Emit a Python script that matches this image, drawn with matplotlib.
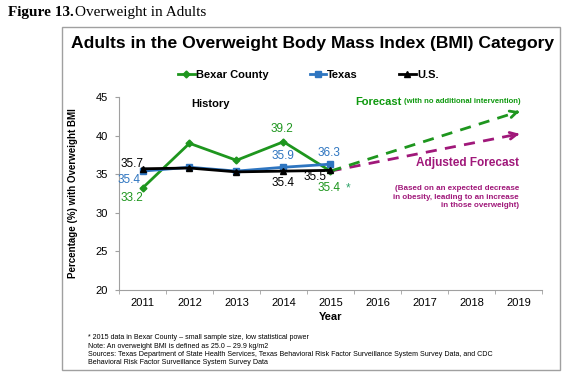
import matplotlib.pyplot as plt
from matplotlib.lines import Line2D
from matplotlib.patches import Rectangle

plt.rcParams['font.family'] = ['Liberation Sans', 'DejaVu Sans']

# data
years = ['2011', '2012', '2013', '2014', '2015', '2016', '2017', '2018', '2019']
hist_years = [0, 1, 2, 3, 4]
bexar = [33.2, 39.0, 36.8, 39.2, 35.4]
texas = [35.4, 35.9, 35.4, 35.9, 36.3]
us = [35.7, 35.8, 35.3, 35.4, 35.5]

forecast_x = [4, 8]
forecast = [35.4, 43.1]
adjusted = [35.4, 40.2]

green = '#1E961E'
green_txt = '#0F990F'
blue = '#2E75C0'
purple = '#A0187A'

fig = plt.figure(figsize=(5.73, 3.84), dpi=100)

# outer frame
fig.patches.append(Rectangle((0.108, 0.036), 0.869, 0.894, transform=fig.transFigure,
                             fill=False, edgecolor='#A0A0A0', linewidth=1.0))

fig.text(0.014, 0.968, 'Figure 13.', family='Liberation Serif', fontweight='bold',
         fontsize=11, va='center')
fig.text(0.131, 0.968, 'Overweight in Adults', family='Liberation Serif',
         fontsize=11, va='center')
fig.text(0.545, 0.888, 'Adults in the Overweight Body Mass Index (BMI) Category',
         fontsize=12.6, fontweight='bold', ha='center', va='center')

ax = fig.add_axes([0.2077, 0.2448, 0.738, 0.5026])

ax.plot(hist_years, texas, color=blue, lw=2, marker='s', ms=4, zorder=3)
ax.plot(hist_years, us, color='black', lw=2, marker='^', ms=4, zorder=4)
ax.plot(hist_years, bexar, color=green, lw=2, marker='D', ms=3.5, zorder=2)

# forecast lines with open arrowheads
for vals, c in [(adjusted, purple), (forecast, green)]:
    ax.plot(forecast_x, vals, color=c, lw=2, ls=(0, (4, 3)), zorder=2)
    dx = forecast_x[1] - forecast_x[0]
    dy = vals[1] - vals[0]
    ax.annotate('', xy=(forecast_x[1] + 0.08, vals[1] + 0.08 * dy / dx),
                xytext=(forecast_x[1] - 0.1, vals[1] - 0.1 * dy / dx),
                arrowprops=dict(arrowstyle='->', color=c, lw=2, mutation_scale=12))

# data labels
lab = dict(fontsize=8.5, ha='center', va='center')
ax.text(-0.22, 36.3, '35.7', color='black', **lab)
ax.text(-0.29, 34.3, '35.4', color=blue, **lab)
ax.text(-0.22, 31.9, '33.2', color=green, **lab)
ax.text(2.97, 40.8, '39.2', color=green, **lab)
ax.text(2.99, 37.3, '35.9', color=blue, **lab)
ax.text(2.99, 33.8, '35.4', color='black', **lab)
ax.text(3.97, 37.8, '36.3', color=blue, **lab)
ax.text(3.67, 34.6, '35.5', color='black', **lab)
ax.text(3.97, 33.2, '35.4', color=green, **lab)
ax.text(4.38, 33.2, '*', color='#2FA36A', fontsize=8.5, ha='center', va='center')

ax.text(1.44, 44.05, 'History', fontsize=8, fontweight='bold', ha='center', va='center')
ax.text(4.52, 44.4, 'Forecast', fontsize=8, fontweight='bold', color=green_txt, va='center')
ax.text(5.56, 44.4, '(with no additional intervention)', fontsize=5.5, fontweight='bold',
        color=green_txt, va='center')
ax.text(8.01, 36.4, 'Adjusted Forecast', fontsize=8.5, fontweight='bold', color=purple,
        ha='right', va='center')
ax.text(8.01, 32.0, '(Based on an expected decrease\nin obesity, leading to an increase\nin those overweight)',
        fontsize=5.8, fontweight='bold', color=purple, ha='right', va='center',
        multialignment='right', linespacing=1.3)

ax.set_xlim(-0.5, 8.5)
ax.set_ylim(20, 45)
ax.set_yticks([20, 25, 30, 35, 40, 45])
ax.set_xticks(range(len(years)))
ax.set_xticklabels(years)
ax.set_xticks([i - 0.5 for i in range(len(years) + 1)], minor=True)
ax.tick_params(axis='x', which='major', length=0, labelsize=8, pad=6)
ax.tick_params(axis='x', which='minor', length=3, color='#A0A0A0')
ax.tick_params(axis='y', length=3, color='#A0A0A0', labelsize=8, pad=5)
for s in ['top', 'right']:
    ax.spines[s].set_visible(False)
for s in ['left', 'bottom']:
    ax.spines[s].set_color('#A0A0A0')
ax.set_xlabel('Year', fontsize=8, fontweight='bold', labelpad=3)
fig.text(0.127, 0.497, 'Percentage (%) with Overweight BMI', rotation=90, fontsize=7,
         fontweight='bold', ha='center', va='center')

handles = [Line2D([], [], color=green, lw=2, marker='D', ms=3.5),
           Line2D([], [], color=blue, lw=2, marker='s', ms=4),
           Line2D([], [], color='black', lw=2, marker='^', ms=4)]
fig.legend(handles, ['Bexar County', 'Texas', 'U.S.'], loc='center', ncol=3,
           bbox_to_anchor=(0.538, 0.805), frameon=False, handlelength=1.5,
           handletextpad=0.1, columnspacing=3.7, prop={'weight': 'bold', 'size': 8})

notes = ('* 2015 data in Bexar County \u2013 small sample size, low statistical power\n'
         'Note: An overweight BMI is defined as 25.0 \u2013 29.9 kg/m2\n'
         'Sources: Texas Department of State Health Services, Texas Behavioral Risk Factor Surveillance System Survey Data, and CDC\n'
         'Behavioral Risk Factor Surveillance System Survey Data')
fig.text(0.154, 0.088, notes, fontsize=5.1, va='center', linespacing=1.25)

fig.savefig('out.png', dpi=100)
